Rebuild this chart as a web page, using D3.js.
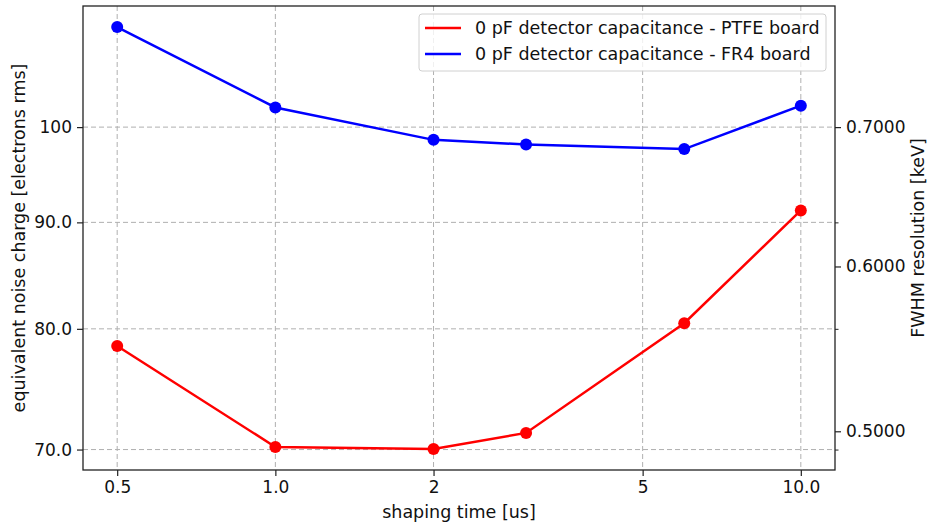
<!DOCTYPE html>
<html>
<head>
<meta charset="utf-8">
<script src="https://cdn.jsdelivr.net/npm/d3@7"></script>
<style>
    body { margin: 0; background: #fff; }
    text { font-family: "DejaVu Sans", sans-serif; fill: #111; }
</style>
</head>
<body>
<div id="chart"></div>
<script>
// shaping times [us]
const shapingTimes = [0.5, 1.0, 2, 3, 6, 10];
// equivalent noise charge [electrons rms]
const ptfeNoise = [78.5, 70.2, 70.05, 71.3, 80.5, 91.2];
const fr4Noise = [111.7, 102.2, 98.6, 98.1, 97.6, 102.4];

const seriesNames = ["0 pF detector capacitance - PTFE board", "0 pF detector capacitance - FR4 board"];
const seriesColors = ["#ff0000", "#0000ff"];

const xTicks = [0.5, 1.0, 2, 5, 10];
const xTickLabels = ["0.5", "1.0", "2", "5", "10.0"];
const yTicks = [70, 80, 90, 100];
const yTickLabels = ["70.0", "80.0", "90.0", "100"];
const rightTicks = [0.5, 0.6, 0.7];
const rightTickLabels = ["0.5000", "0.6000", "0.7000"];
const rightMinorTicks = [0.49, 0.56, 0.63];
// FWHM [keV] per electron rms
const keVPerElectron = 0.007;

const W = 930, H = 528;
const margin = { top: 6, right: 95, bottom: 58, left: 83 };
const width = W - margin.left - margin.right;
const height = H - margin.top - margin.bottom;

const svg = d3.select("#chart").append("svg")
    .attr("width", W)
    .attr("height", H);
const g = svg.append("g")
    .attr("transform", `translate(${margin.left},${margin.top})`);

// log scales with 5% margins like matplotlib
const xPad = Math.pow(d3.max(shapingTimes) / d3.min(shapingTimes), 0.05);
const x = d3.scaleLog()
    .domain([d3.min(shapingTimes) / xPad, d3.max(shapingTimes) * xPad])
    .range([0, width]);

const allNoise = ptfeNoise.concat(fr4Noise);
const yPad = Math.pow(d3.max(allNoise) / d3.min(allNoise), 0.05);
const y = d3.scaleLog()
    .domain([d3.min(allNoise) / yPad, d3.max(allNoise) * yPad])
    .range([height, 0]);
const yRight = d3.scaleLog()
    .domain(y.domain().map(d => d * keVPerElectron))
    .range([height, 0]);

// grid
g.append("g").selectAll("line").data(xTicks).join("line")
    .attr("x1", d => x(d)).attr("x2", d => x(d))
    .attr("y1", 0).attr("y2", height)
    .attr("stroke", "#b0b0b0").attr("stroke-width", 1)
    .attr("stroke-dasharray", "5,3");
g.append("g").selectAll("line").data(yTicks).join("line")
    .attr("x1", 0).attr("x2", width)
    .attr("y1", d => y(d)).attr("y2", d => y(d))
    .attr("stroke", "#b0b0b0").attr("stroke-width", 1)
    .attr("stroke-dasharray", "5,3");

// axes
const fontSize = "17px";
const xAxis = g.append("g")
    .attr("transform", `translate(0,${height})`)
    .call(d3.axisBottom(x).tickValues(xTicks).tickFormat((d, i) => xTickLabels[i]).tickSize(6).tickPadding(5));
const yAxis = g.append("g")
    .call(d3.axisLeft(y).tickValues(yTicks).tickFormat((d, i) => yTickLabels[i]).tickSize(6).tickPadding(5));
const yAxisRight = g.append("g")
    .attr("transform", `translate(${width},0)`)
    .call(d3.axisRight(yRight).tickValues(rightTicks).tickFormat((d, i) => rightTickLabels[i]).tickSize(6).tickPadding(5));
g.append("g")
    .attr("transform", `translate(${width},0)`)
    .call(d3.axisRight(yRight).tickValues(rightMinorTicks).tickFormat("").tickSize(3.5))
    .call(a => a.select(".domain").remove());

[xAxis, yAxis, yAxisRight].forEach(a => {
    a.select(".domain").remove();
    a.selectAll("line").attr("stroke", "#222").attr("stroke-width", 1.2);
    a.selectAll("text").style("font-size", fontSize).style("font-family", "DejaVu Sans");
});
g.selectAll(".tick line").attr("stroke", "#222");

// frame
g.append("rect")
    .attr("width", width).attr("height", height)
    .attr("fill", "none").attr("stroke", "#222").attr("stroke-width", 1.3);

// axis labels
const labelSize = "17.5px";
g.append("text")
    .attr("x", width / 2).attr("y", height + 48)
    .attr("text-anchor", "middle").style("font-size", labelSize)
    .text("shaping time [us]");
g.append("text")
    .attr("transform", "rotate(-90)")
    .attr("x", -height / 2).attr("y", -margin.left + 25)
    .attr("text-anchor", "middle").style("font-size", labelSize)
    .text("equivalent noise charge [electrons rms]");
g.append("text")
    .attr("transform", "rotate(-90)")
    .attr("x", -height / 2).attr("y", width + 89)
    .attr("text-anchor", "middle").style("font-size", labelSize)
    .text("FWHM resolution [keV]");

// series
const series = [ptfeNoise, fr4Noise];
const line = d3.line()
    .x(d => x(d.t))
    .y(d => y(d.v));
series.forEach((vals, i) => {
    const pts = shapingTimes.map((t, j) => ({ t: t, v: vals[j] }));
    g.append("path")
        .datum(pts)
        .attr("fill", "none")
        .attr("stroke", seriesColors[i])
        .attr("stroke-width", 2.5)
        .attr("d", line);
    g.append("g").selectAll("circle").data(pts).join("circle")
        .attr("cx", d => x(d.t))
        .attr("cy", d => y(d.v))
        .attr("r", 6)
        .attr("fill", seriesColors[i]);
});

// legend
const legend = g.append("g")
    .attr("transform", `translate(${width - 416},8)`);
legend.append("rect")
    .attr("width", 407).attr("height", 57)
    .attr("rx", 3)
    .attr("fill", "#fff").attr("fill-opacity", 0.8)
    .attr("stroke", "#d0d0d0").attr("stroke-width", 1);
seriesNames.forEach((name, i) => {
    const yy = 14 + i * 26;
    legend.append("line")
        .attr("x1", 6).attr("x2", 42)
        .attr("y1", yy).attr("y2", yy)
        .attr("stroke", seriesColors[i]).attr("stroke-width", 2.5);
    legend.append("text")
        .attr("x", 56).attr("y", yy)
        .attr("dy", "0.35em")
        .style("font-size", "17.5px")
        .text(name);
});
</script>
</body>
</html>
